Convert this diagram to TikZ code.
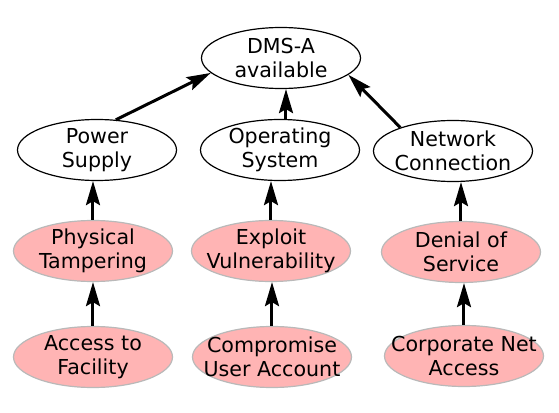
\documentclass[tikz,border=0pt]{standalone}
\usepackage{fontspec}
\setmainfont{DejaVu Sans}
\usetikzlibrary{arrows.meta, shapes.geometric}
\definecolor{threatpink}{RGB}{255,180,180}
\definecolor{threatedge}{RGB}{185,185,185}
\begin{document}
\begin{tikzpicture}[x=0.5pt, y=-0.5pt,
  goal/.style={ellipse, draw=black, line width=0.6pt, fill=white,
    inner xsep=-20pt, inner ysep=-3pt,
    minimum width=79.5pt, minimum height=30.5pt, align=center,
    font=\fontsize{10.3}{12}\selectfont},
  threat/.style={goal, draw=threatedge, fill=threatpink},
  arr/.style={line width=1.5pt, -{Stealth[length=12pt, width=7pt, inset=2pt]}}]
  \useasboundingbox (0, 0) rectangle (559, 413);
  % goals
  \node[goal] (dms) at (281, 58) {DMS-A\\available};
  \node[goal] (ps) at (97, 150) {Power\\Supply};
  \node[goal] (os) at (280, 150) {Operating\\System};
  \node[goal] (nc) at (453, 151) {Network\\Connection};
  % threats
  \node[threat] (pt) at (93, 251) {Physical\\Tampering};
  \node[threat] (ev) at (271, 251) {Exploit\\Vulnerability};
  \node[threat] (dos) at (461, 252) {Denial of\\Service};
  \node[threat] (af) at (93, 357) {Access to\\Facility};
  \node[threat] (cu) at (272, 357) {Compromise\\User Account};
  \node[threat] (cn) at (464, 356) {Corporate Net\\Access};
  % edges
  \draw[arr] (ps.58) -- (dms.192);
  \draw[arr] ([xshift=3pt]os.north) -- ([xshift=3pt]os.north |- dms.south);
  \draw[arr] (nc.156) -- (dms.346);
  \foreach \lo/\hi in {pt/ps, ev/os, dos/nc, af/pt, cu/ev, cn/dos} {
    \draw[arr] (\lo.north) -- (\lo.north |- \hi.south);
  }
\end{tikzpicture}
\end{document}
